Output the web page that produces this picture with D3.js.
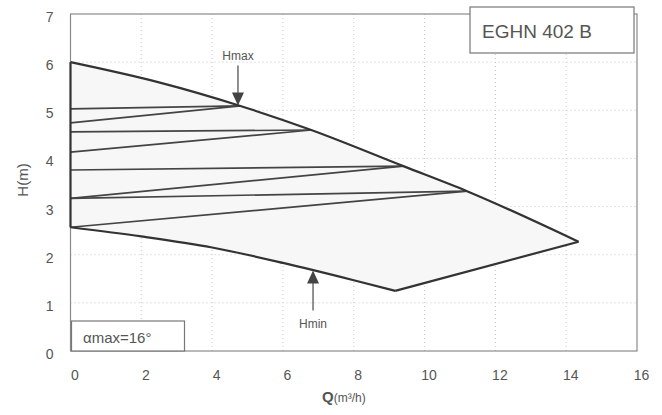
<!DOCTYPE html>
<html>
<head>
<meta charset="utf-8">
<script src="https://cdn.jsdelivr.net/npm/d3@7/dist/d3.min.js"></script>
<style>
  html, body { margin: 0; padding: 0; background: #fff; }
  svg { display: block; }
  text { font-family: "Liberation Sans", Arial, sans-serif; fill: #555; }
</style>
</head>
<body>
<script>
// Operating field of the EGHN 402 B pump: flow Q (m³/h) against head H (m)
const qTicks = [0, 2, 4, 6, 8, 10, 12, 14, 16];
const hTicks = [0, 1, 2, 3, 4, 5, 6, 7];

// Upper limit curve (maximum speed)
const hmaxCurve = [[0, 6.0], [2.5, 5.58], [4.8, 5.09], [6.8, 4.59], [9.4, 3.84], [11.2, 3.32], [14.35, 2.27]];
// Lower limit curve (minimum speed), falling branch then the rising closing edge
const hminCurve = [[0, 2.57], [2, 2.38], [4, 2.15], [6, 1.83], [8, 1.47], [9.17, 1.25]];
const hminEdge = [[9.17, 1.25], [14.35, 2.27]];
// Pairs of control lines running from the H axis to the upper curve
const fanLines = [
  [[0, 5.03], [4.8, 5.09]],
  [[0, 4.74], [4.8, 5.09]],
  [[0, 4.55], [6.8, 4.59]],
  [[0, 4.13], [6.8, 4.59]],
  [[0, 3.76], [9.4, 3.84]],
  [[0, 3.17], [9.4, 3.84]],
  [[0, 3.17], [11.2, 3.32]],
  [[0, 2.57], [11.2, 3.32]]
];
const hmaxMarker = [4.73, 5.1];
const hminMarker = [6.85, 1.67];

const W = 662, H = 415;
const m = { left: 70.5, right: 25, top: 14, bottom: 64 };

const svg = d3.select("body").append("svg").attr("width", W).attr("height", H);

const x = d3.scaleLinear().domain([0, 16]).range([m.left, W - m.right]);
const y = d3.scaleLinear().domain([0, 7]).range([H - m.bottom, m.top]);

// dotted grid
const grid = svg.append("g").attr("stroke", "#c8c8c8").attr("stroke-width", 1).attr("stroke-dasharray", "1,3");
grid.selectAll("line.v").data(qTicks.slice(1, -1)).join("line")
  .attr("x1", d => x(d)).attr("x2", d => x(d)).attr("y1", y(0)).attr("y2", y(7));
grid.selectAll("line.h").data(hTicks.slice(1, -1)).join("line")
  .attr("x1", x(0)).attr("x2", x(16)).attr("y1", d => y(d)).attr("y2", d => y(d));

// frame
svg.append("rect")
  .attr("x", x(0)).attr("y", y(7)).attr("width", x(16) - x(0)).attr("height", y(0) - y(7))
  .attr("fill", "none").attr("stroke", "#8a8a8a").attr("stroke-width", 1.2);

// axes (labels only, no tick marks)
const xAxis = d3.axisBottom(x).tickValues(qTicks).tickFormat(d3.format("d")).tickSize(0).tickPadding(0);
const gx = svg.append("g").attr("transform", `translate(4,${y(0) + 19})`).call(xAxis);
gx.select(".domain").remove();
gx.selectAll("text").style("font-size", "14px").attr("fill", "#555");

const yAxis = d3.axisLeft(y).tickValues(hTicks).tickFormat(d3.format("d")).tickSize(0).tickPadding(0);
const gy = svg.append("g").attr("transform", `translate(${x(0) - 17},3)`).call(yAxis);
gy.select(".domain").remove();
gy.selectAll("text").style("font-size", "14px").attr("fill", "#555");

const line = d3.line().x(d => x(d[0])).y(d => y(d[1]));
const smooth = d3.line().x(d => x(d[0])).y(d => y(d[1])).curve(d3.curveMonotoneX);

// envelope shading
const lowerEdge = hminCurve.concat(hminEdge.slice(1));
const envelope = hmaxCurve.concat(lowerEdge.slice().reverse());
svg.append("path").attr("d", line(envelope) + "Z").attr("fill", "#f7f7f7").attr("stroke", "none");

// control lines
svg.append("g").selectAll("path").data(fanLines).join("path")
  .attr("d", line).attr("fill", "none").attr("stroke", "#444").attr("stroke-width", 1.7);

// left edge of the field on the H axis
svg.append("path").attr("d", line([[0, hminCurve[0][1]], [0, hmaxCurve[0][1]]]))
  .attr("stroke", "#333").attr("stroke-width", 2.2);

// limit curves
const curveStyle = p => p.attr("fill", "none").attr("stroke", "#333").attr("stroke-width", 2.2).attr("stroke-linejoin", "round");
svg.append("path").attr("d", smooth(hmaxCurve)).call(curveStyle);
svg.append("path").attr("d", smooth(hminCurve)).call(curveStyle);
svg.append("path").attr("d", line(hminEdge)).call(curveStyle);

// Hmax marker: arrow pointing down onto the curve
{
  const tx = x(hmaxMarker[0]), ty = y(hmaxMarker[1]);
  svg.append("line").attr("x1", tx).attr("x2", tx).attr("y1", ty - 40).attr("y2", ty - 10)
    .attr("stroke", "#555").attr("stroke-width", 1.3);
  svg.append("path").attr("d", `M${tx - 6},${ty - 13} L${tx + 6},${ty - 13} L${tx},${ty} Z`).attr("fill", "#444");
  svg.append("text").attr("x", tx).attr("y", ty - 45).attr("text-anchor", "middle")
    .style("font-size", "12px").text("Hmax");
}
// Hmin marker: arrow pointing up onto the curve
{
  const tx = x(hminMarker[0]), ty = y(hminMarker[1]);
  svg.append("line").attr("x1", tx).attr("x2", tx).attr("y1", ty + 10).attr("y2", ty + 40)
    .attr("stroke", "#555").attr("stroke-width", 1.3);
  svg.append("path").attr("d", `M${tx - 6},${ty + 13} L${tx + 6},${ty + 13} L${tx},${ty} Z`).attr("fill", "#444");
  svg.append("text").attr("x", tx).attr("y", ty + 57).attr("text-anchor", "middle")
    .style("font-size", "12px").text("Hmin");
}

// model box
svg.append("rect").attr("x", 470).attr("y", 7).attr("width", 164).attr("height", 46)
  .attr("fill", "#fff").attr("stroke", "#777").attr("stroke-width", 1.2);
svg.append("text").attr("x", 482).attr("y", 38).style("font-size", "19px").text("EGHN 402 B");

// angle box
svg.append("rect").attr("x", x(0) + 1).attr("y", 321).attr("width", 113).attr("height", y(0) - 321)
  .attr("fill", "#fff").attr("stroke", "#777").attr("stroke-width", 1.2);
svg.append("text").attr("x", 83).attr("y", 343).style("font-size", "15px").text("αmax=16°");

// axis titles
svg.append("text").attr("transform", "translate(28,180) rotate(-90)").attr("text-anchor", "middle")
  .style("font-size", "15px").text("H(m)");
svg.append("text").attr("x", 322).attr("y", 402).style("font-size", "12px")
  .html('<tspan style="font-size:15px;font-weight:bold">Q</tspan>(m³/h)');
</script>
</body>
</html>
